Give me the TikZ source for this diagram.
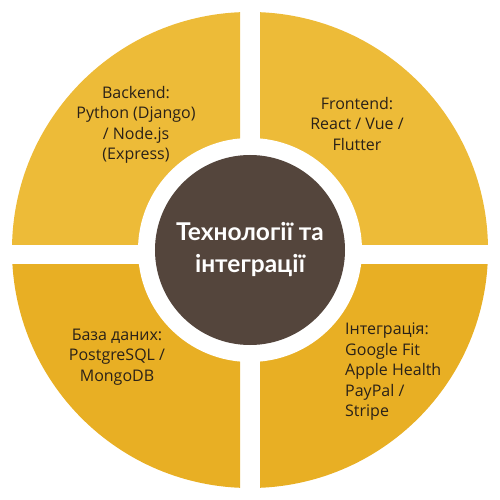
\documentclass[tikz,border=0pt]{standalone}
\usepackage{fontspec}
\setmainfont{Lato}
\newfontfamily\bodyfont{Open Sans}
\usetikzlibrary{positioning}
\usepackage{xcolor}
\definecolor{sunTop}{HTML}{EDBB38}
\definecolor{sunBottom}{HTML}{E8AF24}
\definecolor{hubBrown}{HTML}{54453C}
\definecolor{inkDark}{HTML}{2A2118}

\begin{document}
\begin{tikzpicture}[
        x=1pt, y=1pt,
        quadtext/.style={text=inkDark, align=center, inner sep=0pt, font=\bodyfont\fontsize{16}{20.5}\selectfont},
        hub/.style={circle, fill=hubBrown, minimum size=190pt, inner sep=0pt, text=white, align=center, font=\bfseries\fontsize{24.5}{32}\selectfont}
    ]
        \useasboundingbox (-250,-250) rectangle (250,250);

        % four quarters of the ring
        \foreach \xa/\xb/\ya/\yb/\col in {-250/-10/5/250/sunTop, 10/250/5/250/sunTop, -250/-10/-250/-15/sunBottom, 10/250/-250/-15/sunBottom} {
            \begin{scope}
                \clip (\xa,\ya) rectangle (\xb,\yb);
                \fill [\col] (0,0) circle (238);
            \end{scope}
        }
        \fill [white] (0,0) circle (112);

        \node [hub] (hub) at (0,0) {Технології та\\інтеграції};

        \node [quadtext] (backend) at (-114,125) {Backend:\\Python (Django)\\/ Node.js\\(Express)};
        \node [quadtext] (frontend) at (107,126) {Frontend:\\React / Vue /\\Flutter};
        \node [quadtext] (database) at (-133,-107) {База даних:\\PostgreSQL /\\MongoDB};
        \node [quadtext, anchor=west, align=left] (integration) at (95,-122) {Інтеграція:\\Google Fit\\Apple Health\\PayPal /\\Stripe};
    \end{tikzpicture}
\end{document}
